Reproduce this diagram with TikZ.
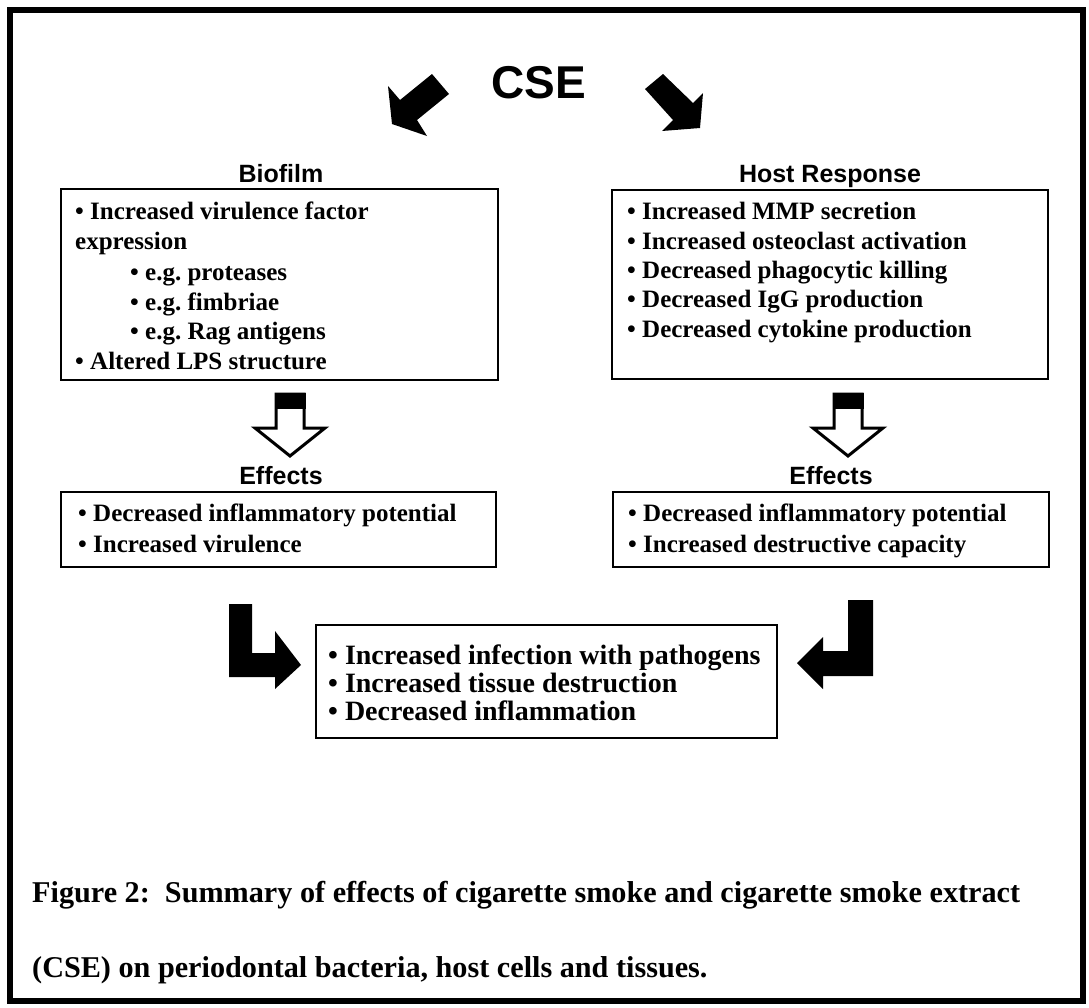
\documentclass[tikz,border=0pt]{standalone}
\usepackage{fontspec}
\setmainfont{Liberation Serif}
\newfontfamily\arialfont{Liberation Sans}
\frenchspacing
\begin{document}
\begin{tikzpicture}[x=1pt,y=-1pt,
  box/.style={draw, line width=1.5pt, inner sep=0pt, outer sep=0pt},
  txt/.style={anchor=base west, inner sep=0pt, font=\fontsize{25}{30}\selectfont\bfseries},
  btxt/.style={anchor=base west, inner sep=0pt, font=\fontsize{28}{30}\selectfont\bfseries},
  captxt/.style={anchor=base west, inner sep=0pt, font=\fontsize{30.2}{36}\selectfont\bfseries},
  ttl/.style={anchor=base, inner sep=0pt, font=\arialfont\fontsize{25}{30}\selectfont\bfseries},
  bigttl/.style={anchor=base, inner sep=0pt, font=\arialfont\fontsize{46}{50}\selectfont\bfseries},
  solidarrow/.style={fill=black},
  hollowarrow/.style={draw=black, fill=white, line width=3pt, line join=miter},
]
\useasboundingbox (0,0) rectangle (1089,1007);
% outer frame
\draw[line width=6pt] (9.5,10) rectangle (1083,1001);

% titles
\node[bigttl] (cse) at (539,98) {CSE};
\node[ttl] (biot) at (281,182) {Biofilm};
\node[ttl] (hostt) at (830,182) {Host Response};
\node[ttl] (eff1t) at (281,484) {Effects};
\node[ttl] (eff2t) at (831,484) {Effects};

% boxes
\node[box, minimum width=437pt, minimum height=191pt] (bio) at (279.5,284.5) {};
\node[box, minimum width=436pt, minimum height=189pt] (host) at (830,284.5) {};
\node[box, minimum width=435pt, minimum height=75pt] (eff1) at (278.5,529.5) {};
\node[box, minimum width=436pt, minimum height=75pt] (eff2) at (831,529.5) {};
\node[box, minimum width=461pt, minimum height=113pt] (res) at (546.5,681.5) {};

% Biofilm text
\node[txt] (b1) at (75,219) {• Increased virulence factor};
\node[txt] (b2) at (75,249) {expression};
\node[txt] (b3) at (130,280) {• e.g. proteases};
\node[txt] (b4) at (130,310) {• e.g. fimbriae};
\node[txt] (b5) at (130,339) {• e.g. Rag antigens};
\node[txt] (b6) at (75,369) {• Altered LPS structure};

% Host text
\node[txt] (h1) at (627,219) {• Increased MMP secretion};
\node[txt] (h2) at (627,249) {• Increased osteoclast activation};
\node[txt] (h3) at (627,278) {• Decreased phagocytic killing};
\node[txt] (h4) at (627,307) {• Decreased IgG production};
\node[txt] (h5) at (627,337) {• Decreased cytokine production};

% Effects text
\node[txt] (e1) at (78,521) {• Decreased inflammatory potential};
\node[txt] (e2) at (78,552) {• Increased virulence};
\node[txt] (e3) at (628,521) {• Decreased inflammatory potential};
\node[txt] (e4) at (628,552) {• Increased destructive capacity};

% result text
\node[btxt] (r1) at (328,664) {• Increased infection with pathogens};
\node[btxt] (r2) at (328,692) {• Increased tissue destruction};
\node[btxt] (r3) at (328,720) {• Decreased inflammation};

% caption
\node[captxt] (c1) at (32,902) {Figure 2:~ Summary of effects of cigarette smoke and cigarette smoke extract};
\node[captxt] (c2) at (32,977) {(CSE) on periodontal bacteria, host cells and tissues.};

% CSE arrows
\fill[solidarrow] (432,74) -- (449,94) -- (417,120) -- (427,136) -- (392,124) -- (388,86) -- (400,100) -- cycle;
\fill[solidarrow] (663,74) -- (693,103) -- (703,93) -- (700,128) -- (662,131) -- (673,120) -- (645,89) -- cycle;

% hollow down arrows
\foreach \cx in {290,848}{
  \draw[hollowarrow] (\cx-14,394) -- (\cx+14,394) -- (\cx+14,428) -- (\cx+35,428) -- (\cx,456) -- (\cx-35,428) -- (\cx-14,428) -- cycle;
  \fill (\cx-15.5,392.5) rectangle (\cx+15.5,409);
}

% bent arrows
\fill[solidarrow] (229,604) -- (252,604) -- (252,653) -- (275,653) -- (275,631) -- (301,665) -- (275,689) -- (275,677) -- (229,677) -- cycle;
\fill[solidarrow] (873,600) -- (848,600) -- (848,651) -- (823,651) -- (823,637) -- (797,663) -- (823,689) -- (823,676) -- (873,676) -- cycle;
\end{tikzpicture}
\end{document}
